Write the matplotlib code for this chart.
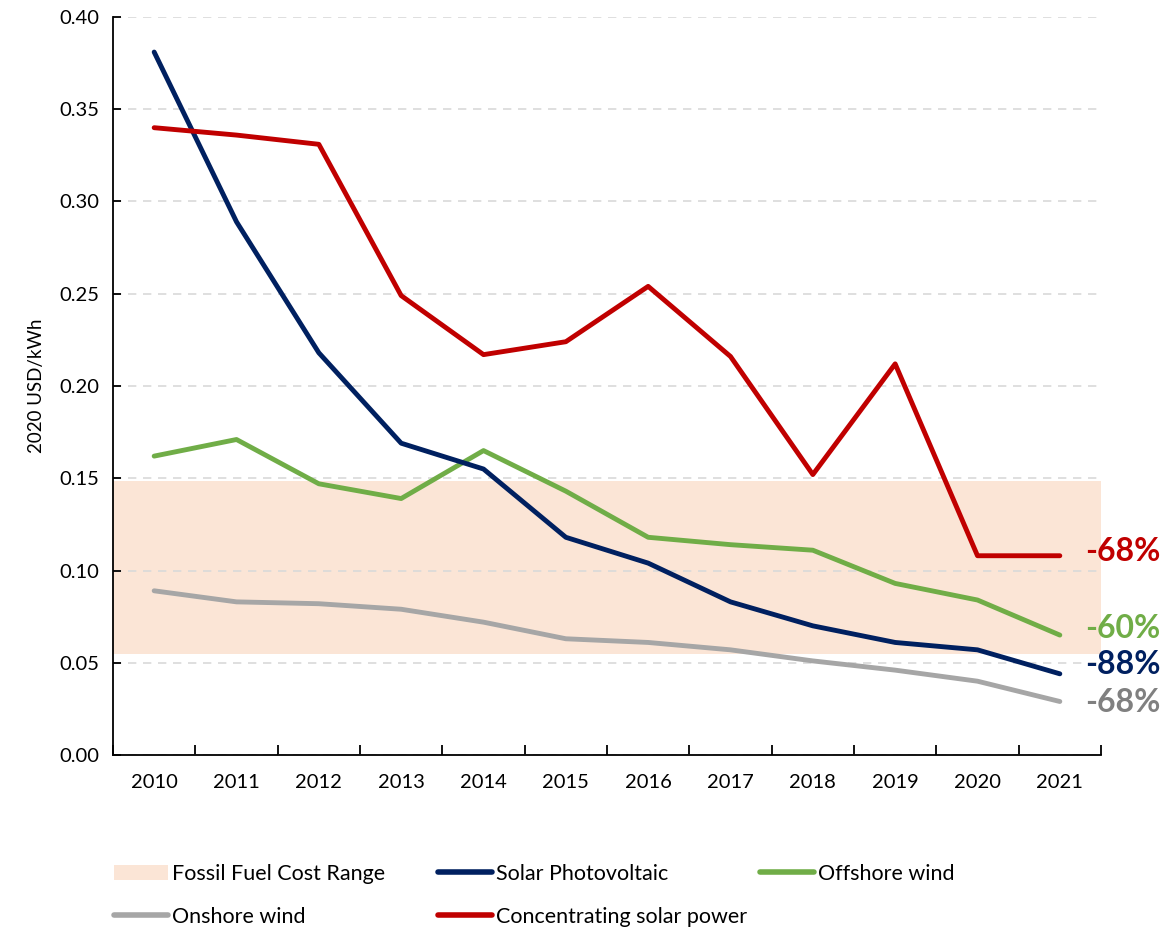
import numpy as np
import matplotlib
matplotlib.use('Agg')
import matplotlib.pyplot as plt
from matplotlib.patches import Patch
from matplotlib.lines import Line2D

plt.rcParams['font.family'] = ['Lato', 'DejaVu Sans']

years = ["2010", "2011", "2012", "2013", "2014", "2015",
         "2016", "2017", "2018", "2019", "2020", "2021"]

solar_pv = [0.381, 0.289, 0.218, 0.169, 0.155, 0.118,
            0.104, 0.083, 0.070, 0.061, 0.057, 0.044]
csp = [0.340, 0.336, 0.331, 0.249, 0.217, 0.224,
       0.254, 0.216, 0.152, 0.212, 0.108, 0.108]
offshore = [0.162, 0.171, 0.147, 0.139, 0.165, 0.143,
            0.118, 0.114, 0.111, 0.093, 0.084, 0.065]
onshore = [0.089, 0.083, 0.082, 0.079, 0.072, 0.063,
           0.061, 0.057, 0.051, 0.046, 0.040, 0.029]

fossil_low, fossil_high = 0.055, 0.1485

# end labels (change 2010 -> 2021)
labels = {"csp": "-68%", "offshore": "-60%", "pv": "-88%", "onshore": "-68%"}

NAVY = "#002060"
RED = "#C00000"
GREEN = "#70AD47"
GRAY = "#A6A6A6"
BAND = "#FBE5D6"

fig = plt.figure(figsize=(11.69, 9.32), dpi=100)
ax = fig.add_axes([113 / 1169, 1 - 755 / 932, (1101 - 113) / 1169, (755 - 17) / 932])

x = np.arange(len(years))

ax.axhspan(fossil_low, fossil_high, color=BAND, zorder=0, lw=0)
ax.plot(x, onshore, color=GRAY, lw=3.5, solid_capstyle='round', zorder=3)
ax.plot(x, offshore, color=GREEN, lw=3.5, solid_capstyle='round', zorder=3)
ax.plot(x, solar_pv, color=NAVY, lw=3.5, solid_capstyle='round', zorder=4)
ax.plot(x, csp, color=RED, lw=3.5, solid_capstyle='round', zorder=4)

ax.set_xlim(-0.5, len(years) - 0.5)
ax.set_ylim(0, 0.40)
ax.set_yticks(np.arange(0, 0.401, 0.05))
ax.set_yticklabels([f"{v:.2f}" for v in np.arange(0, 0.401, 0.05)])
ax.set_xticks(x)
ax.set_xticklabels(years)
ax.set_xticks(np.arange(-0.5, len(years), 1.0), minor=True)
ax.tick_params(axis='x', which='major', length=0, pad=14, labelsize=14.5)
ax.tick_params(axis='x', which='minor', direction='in', length=7, width=1.3)
ax.tick_params(axis='y', direction='in', length=6, width=1.3, labelsize=14.5, pad=10)

ax.grid(axis='y', color='#D9D9D9', linestyle=(0, (5, 4)), lw=1.2, zorder=1)
ax.set_axisbelow(True)
for s in ['top', 'right']:
    ax.spines[s].set_visible(False)
for s in ['left', 'bottom']:
    ax.spines[s].set_linewidth(1.3)
    ax.spines[s].set_zorder(5)

ax.set_ylabel("2020 USD/kWh", fontsize=13.5, labelpad=10)

def end_label(vals, text, color, dy):
    ax.annotate(text, xy=(x[-1], vals[-1]), xytext=(18, dy), textcoords='offset points',
                ha='left', va='center', fontsize=23, fontweight='bold', color=color,
                annotation_clip=False)

end_label(csp, labels["csp"], RED, 3)
end_label(offshore, labels["offshore"], GREEN, 5)
end_label(solar_pv, labels["pv"], NAVY, 7)
end_label(onshore, labels["onshore"], "#808080", -1)

# legend, three columns placed like the original
h_band = Patch(facecolor=BAND, edgecolor='none')
h_pv = Line2D([], [], color=NAVY, lw=4, solid_capstyle='round')
h_off = Line2D([], [], color=GREEN, lw=4, solid_capstyle='round')
h_on = Line2D([], [], color=GRAY, lw=4, solid_capstyle='round')
h_csp = Line2D([], [], color=RED, lw=4, solid_capstyle='round')

leg_kw = dict(frameon=False, fontsize=15.5, handlelength=2.5, handletextpad=0.2,
              labelspacing=1.05, loc='upper left', borderaxespad=0, borderpad=0)
fig.legend([h_band, h_on], ["Fossil Fuel Cost Range", "Onshore wind"],
           bbox_to_anchor=(114 / 1169, 1 - 864 / 932), **leg_kw)
fig.legend([h_pv, h_csp], ["Solar Photovoltaic", "Concentrating solar power"],
           bbox_to_anchor=(438 / 1169, 1 - 864 / 932), **leg_kw)
fig.legend([h_off], ["Offshore wind"],
           bbox_to_anchor=(760 / 1169, 1 - 864 / 932), **leg_kw)

fig.savefig("out.png", dpi=100)
